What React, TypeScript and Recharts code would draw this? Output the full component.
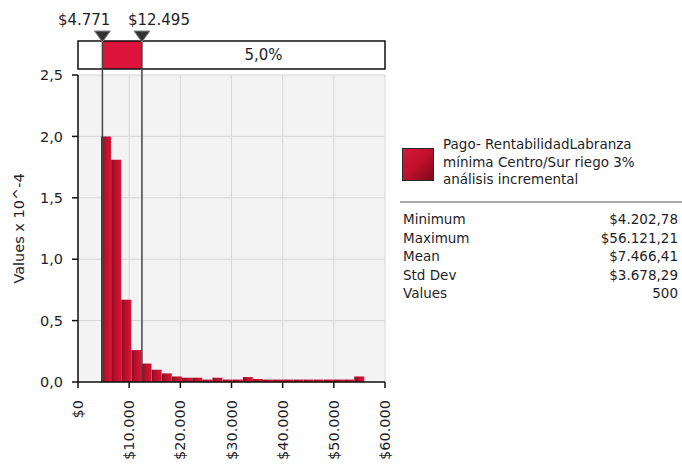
import React from 'react'
import {
  ComposedChart, Bar, XAxis, YAxis, CartesianGrid, ReferenceLine, ReferenceArea, ReferenceDot,
} from 'recharts'

// histogram bins (bin centre in $) and density (x 10^-4)
const binCenters = [
  5490, 7470, 9450, 11430, 13410, 15390, 17370, 19350, 21330, 23310, 25290, 27270, 29250,
  31230, 33210, 35190, 37170, 39150, 41130, 43110, 45090, 47070, 49050, 51030, 53010, 54990,
]
const densities = [
  2.0, 1.81, 0.67, 0.26, 0.15, 0.1, 0.07, 0.045, 0.035, 0.035, 0.02, 0.035, 0.02,
  0.02, 0.04, 0.025, 0.02, 0.02, 0.02, 0.02, 0.02, 0.02, 0.02, 0.02, 0.02, 0.045,
]
const xTicks = [0, 10000, 20000, 30000, 40000, 50000, 60000]
const yTicks = [0, 0.5, 1, 1.5, 2, 2.5]

const leftMarker = 4771
const rightMarker = 12495
const markerLabels = ['$4.771', '$12.495']
const bandLabel = '5,0%'
const bandTop = 2.777
const bandBottom = 2.549

const seriesName = ['Pago- RentabilidadLabranza', 'mínima Centro/Sur riego 3%', 'análisis incremental']
const statNames = ['Minimum', 'Maximum', 'Mean', 'Std Dev', 'Values']
const statValues = ['$4.202,78', '$56.121,21', '$7.466,41', '$3.678,29', '500']

const FONT = '"DejaVu Sans", sans-serif'
const TEXT = '#1e1e28'

const fmtX = (v: number) => '$' + v.toLocaleString('de-DE')
const fmtY = (v: number) => v.toFixed(1).replace('.', ',')

function XTick({ x, y, payload }: any) {
  return (
    <g transform={`translate(${x},${y + 10})`}>
      <text transform="rotate(-90)" textAnchor="end" dy="0.35em" fontSize={14.5} fill={TEXT} fontFamily={FONT}>
        {fmtX(payload.value)}
      </text>
    </g>
  )
}

function Marker({ cx, cy }: any) {
  return (
    <polygon
      points={`${cx - 8},${cy - 10} ${cx + 8},${cy - 10} ${cx},${cy + 1}`}
      fill="#333"
      stroke="#888"
      strokeWidth={1}
    />
  )
}

// marker value label: left one sits to the left of its marker, right one to the right
function markerLabel(text: string, side: 'left' | 'right') {
  return {
    content: ({ viewBox }: any) => {
      const cx = viewBox.x + viewBox.width / 2
      return (
        <text
          x={side === 'left' ? cx + 8 : cx - 14}
          y={viewBox.y - 10}
          textAnchor={side === 'left' ? 'end' : 'start'}
          fontSize={15}
          fill={TEXT}
          fontFamily={FONT}
        >
          {text}
        </text>
      )
    },
  }
}

export default function App() {
  const data = binCenters.map((x, i) => ({ x, density: densities[i] }))

  return (
    <div style={{ position: 'absolute', left: 0, top: 0, width: 682, height: 466, background: '#fff', fontFamily: FONT }}>
      <ComposedChart
        width={682}
        height={466}
        data={data}
        margin={{ top: 75, right: 297, bottom: 0, left: 0 }}
        barCategoryGap={0}
        barGap={0}
      >
        <defs>
          <linearGradient id="barGrad" x1="0" y1="0" x2="1" y2="0">
            <stop offset="0%" stopColor="#7a0a1c" />
            <stop offset="20%" stopColor="#a50e27" />
            <stop offset="60%" stopColor="#c8102e" />
            <stop offset="100%" stopColor="#d3173a" />
          </linearGradient>
        </defs>
        <CartesianGrid stroke="#d6d6d6" fill="#f3f3f3" />
        <XAxis
          dataKey="x"
          type="number"
          domain={[0, 60000]}
          ticks={xTicks}
          allowDataOverflow
          height={84}
          tickSize={6}
          tick={<XTick />}
          axisLine={{ stroke: '#111', strokeWidth: 1.5 }}
          tickLine={{ stroke: '#111', strokeWidth: 1.5 }}
          interval={0}
        />
        <YAxis
          type="number"
          domain={[0, 2.5]}
          ticks={yTicks}
          width={78}
          tickSize={6}
          tickMargin={9}
          tickFormatter={fmtY}
          tick={{ fontSize: 14.5, fill: TEXT, fontFamily: FONT }}
          axisLine={{ stroke: '#111', strokeWidth: 1.5 }}
          tickLine={{ stroke: '#111', strokeWidth: 1.5 }}
          interval={0}
          label={{
            content: ({ viewBox }: any) => (
              <text
                x={viewBox.x + 19}
                y={viewBox.y + viewBox.height / 2}
                transform={`rotate(-90, ${viewBox.x + 19}, ${viewBox.y + viewBox.height / 2})`}
                textAnchor="middle"
                dy="0.35em"
                fontSize={14.5}
                fill={TEXT}
                fontFamily={FONT}
              >
                Values x 10^-4
              </text>
            ),
          }}
        />
        <Bar dataKey="density" fill="url(#barGrad)" isAnimationActive={false} />

        <ReferenceArea x1={0} x2={60000} y1={bandBottom} y2={bandTop} ifOverflow="visible" fill="#fff" fillOpacity={1} stroke="none" />
        <ReferenceArea x1={leftMarker} x2={rightMarker} y1={bandBottom} y2={bandTop} ifOverflow="visible" fill="#dc143c" fillOpacity={1} stroke="none" />
        <ReferenceArea
          x1={rightMarker}
          x2={60000}
          y1={bandBottom}
          y2={bandTop}
          ifOverflow="visible"
          fill="none"
          stroke="none"
          label={{ value: bandLabel, position: 'center', fontSize: 15, fill: TEXT, fontFamily: FONT }}
        />
        <ReferenceArea x1={0} x2={60000} y1={bandBottom} y2={bandTop} ifOverflow="visible" fill="none" stroke="#111" strokeWidth={1.5} />

        <ReferenceLine segment={[{ x: leftMarker, y: 0 }, { x: leftMarker, y: bandTop }]} ifOverflow="visible" stroke="#444" strokeWidth={1.5} />
        <ReferenceLine segment={[{ x: rightMarker, y: 0 }, { x: rightMarker, y: bandTop }]} ifOverflow="visible" stroke="#444" strokeWidth={1.5} />
        <ReferenceDot
          x={leftMarker}
          y={bandTop}
          r={6}
          ifOverflow="visible"
          shape={<Marker />}
          label={markerLabel(markerLabels[0], 'left')}
        />
        <ReferenceDot
          x={rightMarker}
          y={bandTop}
          r={6}
          ifOverflow="visible"
          shape={<Marker />}
          label={markerLabel(markerLabels[1], 'right')}
        />
      </ComposedChart>

      <div
        style={{
          position: 'absolute', left: 402, top: 148, width: 30, height: 31,
          border: '1px solid #2a2a2a',
          background: 'linear-gradient(135deg, #d3173a 0%, #c0102c 50%, #7a0a1c 100%)',
        }}
      />
      <div style={{ position: 'absolute', left: 443, top: 136, fontSize: 13.5, lineHeight: '17.5px', color: TEXT }}>
        {seriesName.map((s) => (
          <div key={s}>{s}</div>
        ))}
      </div>
      <div style={{ position: 'absolute', left: 400, top: 201, width: 282, height: 2, background: '#a8a8a8' }} />
      <div style={{ position: 'absolute', left: 403, top: 210, width: 275, fontSize: 13.5, lineHeight: '18.5px', color: TEXT }}>
        {statNames.map((n, i) => (
          <div key={n} style={{ display: 'flex', justifyContent: 'space-between' }}>
            <span>{n}</span>
            <span>{statValues[i]}</span>
          </div>
        ))}
      </div>
    </div>
  )
}
